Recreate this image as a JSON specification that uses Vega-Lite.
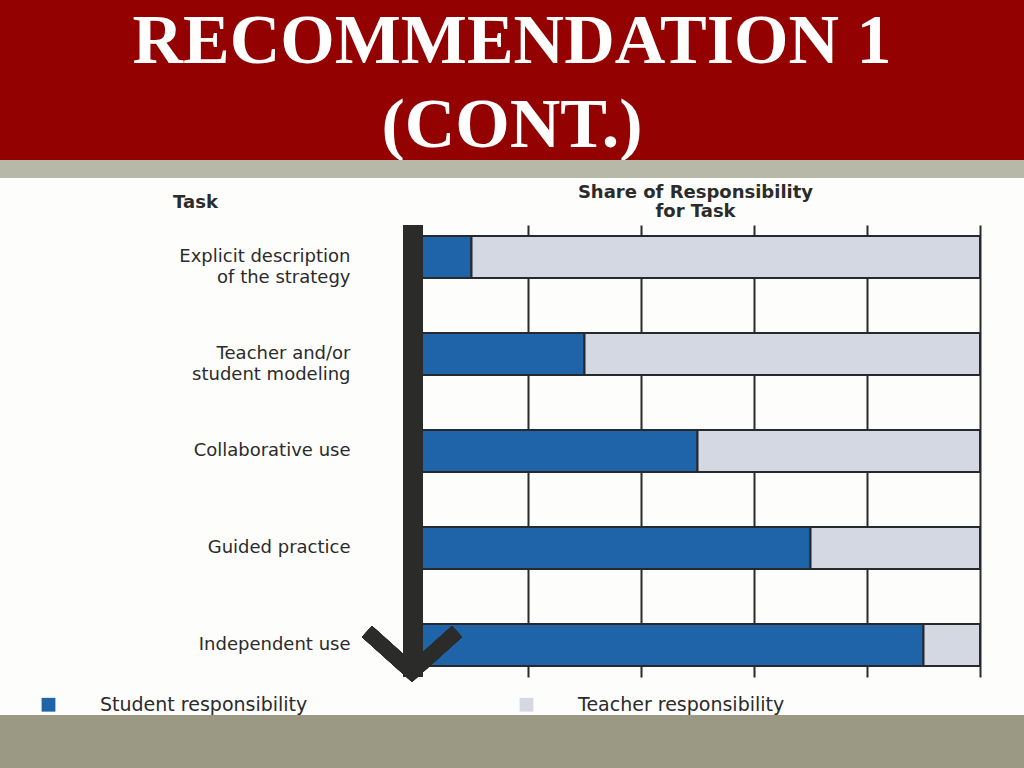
{
  "$schema": "https://vega.github.io/schema/vega-lite/v6.json",
  "description": "Gradual release of responsibility: share of responsibility for each task, student vs teacher",
  "background": "#fdfdfb",
  "padding": 0,
  "spacing": 0,
  "bounds": "flush",
  "vconcat": [
    {
      "width": 1024,
      "height": 160,
      "view": {"fill": "#930101", "stroke": null},
      "data": {
        "values": [
          {"line": 1, "text": "RECOMMENDATION 1"},
          {"line": 2, "text": "(CONT.)"}
        ]
      },
      "mark": {
        "type": "text",
        "font": "Liberation Serif",
        "fontWeight": "bold",
        "fontSize": 70,
        "color": "#ffffff",
        "align": "center",
        "baseline": "alphabetic"
      },
      "encoding": {
        "y": {
          "field": "line",
          "type": "quantitative",
          "axis": null,
          "scale": {"domain": [1, 2], "range": [63, 147]}
        },
        "text": {"field": "text"}
      }
    },
    {
      "width": 1024,
      "height": 18,
      "view": {"fill": "#b8b8a8", "stroke": null},
      "data": {"values": [{}]},
      "mark": {"type": "text", "opacity": 0},
      "encoding": {}
    },
    {
      "width": 1024,
      "height": 47,
      "view": {"stroke": null},
      "data": {"values": [{}]},
      "mark": {"type": "text", "opacity": 0},
      "encoding": {}
    },
    {
      "width": 1024,
      "height": 452,
      "view": {"stroke": null},
      "data": {
        "values": [
          {"task": "Explicit description\nof the strategy", "role": "Student responsibility", "share": 10},
          {"task": "Explicit description\nof the strategy", "role": "Teacher responsibility", "share": 90},
          {"task": "Teacher and/or\nstudent modeling", "role": "Student responsibility", "share": 30},
          {"task": "Teacher and/or\nstudent modeling", "role": "Teacher responsibility", "share": 70},
          {"task": "Collaborative use", "role": "Student responsibility", "share": 50},
          {"task": "Collaborative use", "role": "Teacher responsibility", "share": 50},
          {"task": "Guided practice", "role": "Student responsibility", "share": 70},
          {"task": "Guided practice", "role": "Teacher responsibility", "share": 30},
          {"task": "Independent use", "role": "Student responsibility", "share": 90},
          {"task": "Independent use", "role": "Teacher responsibility", "share": 10}
        ]
      },
      "layer": [
        {
          "mark": {"type": "bar", "stroke": "#26292d", "strokeWidth": 2},
          "encoding": {
            "y": {
              "field": "task",
              "type": "nominal",
              "sort": null,
              "scale": {"paddingInner": 0.567, "paddingOuter": 0.113},
              "axis": {
                "title": "Task",
                "titleAngle": 0,
                "titleX": -159,
                "titleY": -18,
                "titleAlign": "center",
                "titleBaseline": "alphabetic",
                "titleFontSize": 18,
                "titleFontWeight": "bold",
                "titleColor": "#2b2b2b",
                "offset": -354,
                "domain": false,
                "ticks": false,
                "labelPadding": 4,
                "labelFontSize": 18,
                "labelColor": "#2b2b2b",
                "labelLineHeight": 21,
                "labelLimit": 400,
                "labelExpr": "split(datum.label, '\\n')"
              }
            },
            "x": {
              "field": "share",
              "type": "quantitative",
              "stack": "zero",
              "scale": {"domain": [0, 100], "range": [415, 980]},
              "axis": {
                "orient": "top",
                "values": [20, 40, 60, 80, 100],
                "grid": true,
                "gridColor": "#2b2b2b",
                "gridWidth": 2,
                "gridOpacity": 1,
                "labels": false,
                "ticks": false,
                "domain": false,
                "title": ["Share of Responsibility", "for Task"],
                "titleX": 695,
                "titleY": -28,
                "titleAlign": "center",
                "titleBaseline": "alphabetic",
                "titleFontSize": 18,
                "titleFontWeight": "bold",
                "titleLineHeight": 19,
                "titleColor": "#2b2b2b"
              }
            },
            "color": {
              "field": "role",
              "type": "nominal",
              "scale": {
                "domain": ["Student responsibility", "Teacher responsibility"],
                "range": ["#1f63a8", "#d3d8e3"]
              },
              "legend": {
                "orient": "none",
                "legendX": 39,
                "legendY": 695,
                "direction": "horizontal",
                "title": null,
                "symbolType": "square",
                "symbolSize": 190,
                "symbolStrokeWidth": 0,
                "labelFontSize": 19,
                "labelColor": "#2b2b2b",
                "labelOffset": 42,
                "columnPadding": 209,
                "labelLimit": 400
              }
            }
          }
        },
        {
          "mark": {"type": "rule", "strokeWidth": 20, "color": "#2b2c29", "xOffset": -2},
          "encoding": {"x": {"datum": 0}}
        },
        {
          "mark": {
            "type": "point",
            "shape": "M-1,-0.9L0,0L1,-0.9",
            "size": 8100,
            "filled": false,
            "stroke": "#2b2c29",
            "strokeWidth": 15,
            "strokeJoin": "miter",
            "opacity": 1,
            "xOffset": -3,
            "yOffset": 27
          },
          "encoding": {
            "x": {"datum": 0},
            "y": {"datum": "Independent use"}
          }
        }
      ]
    },
    {
      "width": 1024,
      "height": 38,
      "view": {"stroke": null},
      "data": {"values": [{}]},
      "mark": {"type": "text", "opacity": 0},
      "encoding": {}
    },
    {
      "width": 1024,
      "height": 53,
      "view": {"fill": "#9b9884", "stroke": null},
      "data": {"values": [{}]},
      "mark": {"type": "text", "opacity": 0},
      "encoding": {}
    }
  ],
  "config": {
    "font": "DejaVu Sans"
  }
}
